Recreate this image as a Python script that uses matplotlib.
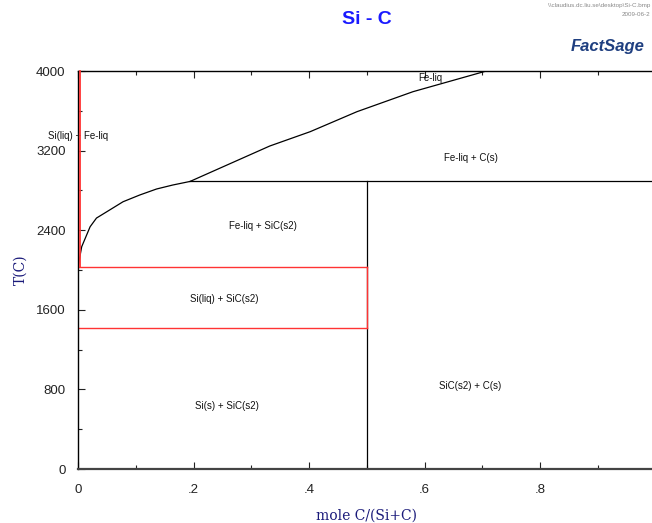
import matplotlib
matplotlib.use("Agg")
import matplotlib.pyplot as plt
import numpy as np

plt.rcParams["font.family"] = ["Liberation Sans", "DejaVu Sans"]

# phase boundaries (mole fraction C, T in C)
liq_x = [0.0, 0.0064, 0.021, 0.032, 0.050, 0.078, 0.107, 0.136, 0.164, 0.194]
liq_t = [2030, 2234, 2435, 2522, 2586, 2686, 2754, 2814, 2854, 2890]
upper_x = [0.194, 0.332, 0.402, 0.483, 0.580, 0.707]
upper_t = [2890, 3246, 3390, 3591, 3792, 4000]
t_eutectic = 1414
t_peritectic = 2030
t_feliq_c = 2890
x_sic = 0.5
x_si_edge = 0.003

labels = ["Si(liq) + Fe-liq", "Fe-liq", "Fe-liq + C(s)", "Fe-liq + SiC(s2)",
          "Si(liq) + SiC(s2)", "Si(s) + SiC(s2)", "SiC(s2) + C(s)"]
label_x = [0.0, 0.61, 0.68, 0.32, 0.253, 0.258, 0.679]
label_t = [3350, 3930, 3130, 2440, 1710, 630, 830]

fig = plt.figure(figsize=(6.52, 5.23), dpi=100)
ax = fig.add_axes([78 / 652, 54 / 523, 577.5 / 652, 398 / 523])

ax.plot(liq_x, liq_t, color="black", lw=0.9)
ax.plot(upper_x, upper_t, color="black", lw=0.9)
ax.plot([liq_x[-1], 1.0], [t_feliq_c, t_feliq_c], color="black", lw=0.9)
ax.plot([x_sic, x_sic], [0, t_feliq_c], color="black", lw=0.9)

red = "#ff3333"
ax.plot([x_si_edge, x_si_edge], [t_peritectic, 4000], color=red, lw=1.3,
        zorder=4, clip_on=False)
ax.plot([0, x_sic], [t_peritectic, t_peritectic], color=red, lw=1.0)
ax.plot([0, x_sic], [t_eutectic, t_eutectic], color=red, lw=1.0)
ax.plot([x_sic, x_sic], [t_eutectic, t_peritectic], color=red, lw=1.0)

for s, x, t in zip(labels, label_x, label_t):
    ax.text(x, t, s, ha="center", va="center", fontsize=7, color="#111111")

ax.set_xlim(0, 1)
ax.set_ylim(0, 4000)
ax.set_xticks([0, 0.2, 0.4, 0.6, 0.8])
ax.set_xticklabels(["0", ".2", ".4", ".6", ".8"])
ax.set_xticks([0.1, 0.3, 0.5, 0.7, 0.9], minor=True)
ax.set_yticks([0, 800, 1600, 2400, 3200, 4000])
ax.set_yticks([400, 1200, 2000, 2800, 3600], minor=True)
ax.tick_params(which="both", direction="in", top=True, right=False,
               labelsize=9.5, colors="#222222")
ax.tick_params(axis="x", pad=11)
ax.tick_params(axis="y", pad=9)
ax.tick_params(which="major", length=5, width=0.8)
ax.tick_params(which="minor", length=3, width=0.8)
for side in ["left", "top"]:
    ax.spines[side].set_linewidth(1.0)
ax.spines["bottom"].set_linewidth(1.6)
ax.spines["bottom"].set_color("#444444")
ax.spines["right"].set_visible(False)

ax.set_xlabel("mole C/(Si+C)", family="DejaVu Serif", fontsize=10,
              color="#1a1a7a", labelpad=9)
ax.set_ylabel("T(C)", family="DejaVu Serif", fontsize=10,
              color="#1a1a7a", labelpad=6)

fig.text(367 / 652, 1 - 20 / 523, "Si - C", ha="center", va="center",
         fontsize=14, fontweight="bold", color="#1a1aff")
fig.text(650 / 652, 1 - 6 / 523, "\\\\claudius.dc.liu.se\\desktop\\Si-C.bmp",
         ha="right", va="center", fontsize=4.5, color="#888888")
fig.text(650 / 652, 1 - 14 / 523, "2009-06-2", ha="right", va="center",
         fontsize=4.5, color="#888888")
fig.text(608 / 652, 1 - 47 / 523, "FactSage", ha="center", va="center",
         fontsize=12, fontweight="bold", style="italic", color="#1f3f80")

fig.savefig("out.png", dpi=100, facecolor="white")
